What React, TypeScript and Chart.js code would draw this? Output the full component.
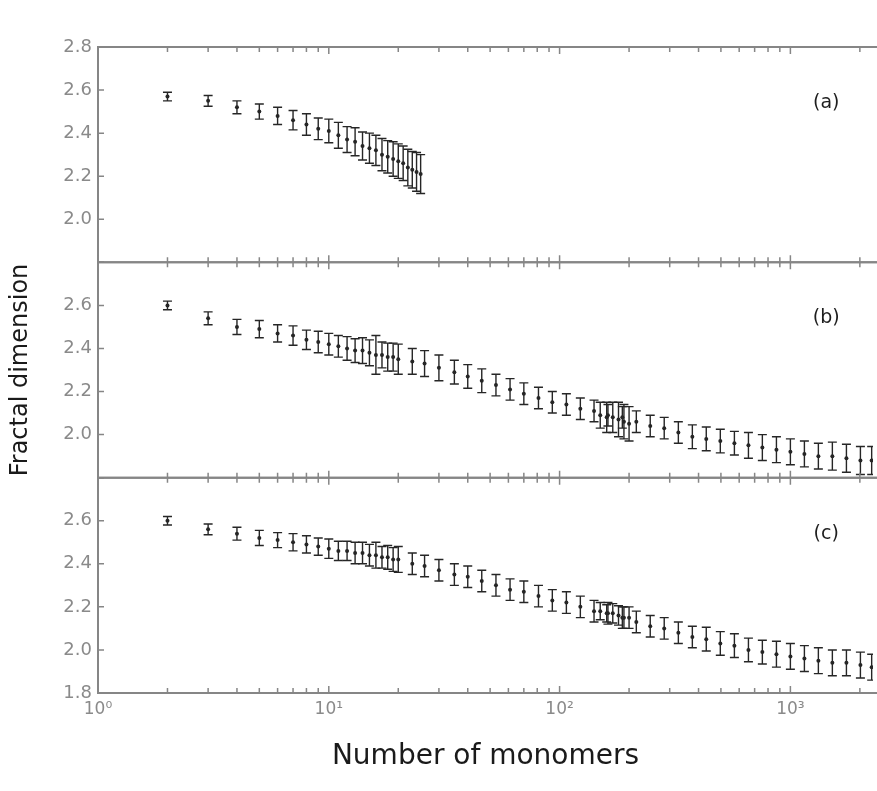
import { useEffect, useRef } from 'react';
import { Chart, registerables } from 'chart.js';

Chart.register(...registerables);

// ---- data ----
const sizesA = [2, 3, 4, 5, 6, 7, 8, 9, 10, 11, 12, 13, 14, 15, 16, 17, 18, 19, 20, 21, 22, 23, 24, 25];
const meanA = [2.57, 2.55, 2.52, 2.5, 2.48, 2.46, 2.44, 2.42, 2.41, 2.39, 2.37, 2.36, 2.34, 2.33, 2.32, 2.3, 2.29, 2.28, 2.27, 2.26, 2.24, 2.23, 2.22, 2.21];
const errA = [0.02, 0.025, 0.03, 0.035, 0.04, 0.045, 0.05, 0.05, 0.055, 0.06, 0.06, 0.065, 0.065, 0.07, 0.07, 0.075, 0.075, 0.08, 0.08, 0.08, 0.085, 0.085, 0.09, 0.09];

const smallSizes = [2, 3, 4, 5, 6, 7, 8, 9, 10, 11, 12, 13, 14, 15, 16, 17, 18, 19, 20];
const largeSizes = [23, 26, 30, 35, 40, 46, 53, 61, 70, 81, 93, 107, 123, 141, 162, 187, 215, 247, 284, 327, 376, 432, 497, 572, 658, 756, 870, 1000, 1150, 1322, 1520, 1749, 2011, 2250];
const clusterSizes = [150, 160, 170, 180, 190, 200];

const meanBSmall = [2.6, 2.54, 2.5, 2.49, 2.47, 2.46, 2.44, 2.43, 2.42, 2.41, 2.4, 2.39, 2.39, 2.38, 2.37, 2.37, 2.36, 2.36, 2.35];
const errBSmall = [0.02, 0.03, 0.035, 0.04, 0.04, 0.045, 0.045, 0.05, 0.05, 0.05, 0.055, 0.055, 0.06, 0.06, 0.09, 0.06, 0.065, 0.065, 0.07];
const meanBLarge = [2.34, 2.33, 2.31, 2.29, 2.27, 2.25, 2.23, 2.21, 2.19, 2.17, 2.15, 2.14, 2.12, 2.11, 2.09, 2.08, 2.06, 2.04, 2.03, 2.01, 1.99, 1.98, 1.97, 1.96, 1.95, 1.94, 1.93, 1.92, 1.91, 1.9, 1.9, 1.89, 1.88, 1.88];
const errBLarge = [0.06, 0.06, 0.06, 0.055, 0.055, 0.055, 0.05, 0.05, 0.05, 0.05, 0.05, 0.05, 0.05, 0.05, 0.05, 0.05, 0.05, 0.05, 0.05, 0.05, 0.055, 0.055, 0.055, 0.055, 0.06, 0.06, 0.06, 0.06, 0.06, 0.06, 0.065, 0.065, 0.065, 0.065];
const meanBCluster = [2.09, 2.08, 2.08, 2.07, 2.06, 2.05];
const errBCluster = [0.06, 0.07, 0.07, 0.08, 0.08, 0.08];

const meanCSmall = [2.6, 2.56, 2.54, 2.52, 2.51, 2.5, 2.49, 2.48, 2.47, 2.46, 2.46, 2.45, 2.45, 2.44, 2.44, 2.43, 2.43, 2.42, 2.42];
const errCSmall = [0.02, 0.025, 0.03, 0.035, 0.035, 0.04, 0.04, 0.04, 0.045, 0.045, 0.045, 0.05, 0.05, 0.05, 0.06, 0.05, 0.055, 0.055, 0.06];
const meanCLarge = [2.4, 2.39, 2.37, 2.35, 2.34, 2.32, 2.3, 2.28, 2.27, 2.25, 2.23, 2.22, 2.2, 2.18, 2.17, 2.15, 2.13, 2.11, 2.1, 2.08, 2.06, 2.05, 2.03, 2.02, 2.0, 1.99, 1.98, 1.97, 1.96, 1.95, 1.94, 1.94, 1.93, 1.92];
const errCLarge = [0.05, 0.05, 0.05, 0.05, 0.05, 0.05, 0.05, 0.05, 0.05, 0.05, 0.05, 0.05, 0.05, 0.05, 0.05, 0.05, 0.05, 0.05, 0.05, 0.05, 0.05, 0.055, 0.055, 0.055, 0.055, 0.055, 0.06, 0.06, 0.06, 0.06, 0.06, 0.06, 0.06, 0.06];
const meanCCluster = [2.18, 2.17, 2.17, 2.16, 2.15, 2.15];
const errCCluster = [0.04, 0.04, 0.045, 0.045, 0.05, 0.05];

const xTickValues = [1, 2, 3, 4, 5, 6, 7, 8, 9, 10, 20, 30, 40, 50, 60, 70, 80, 90, 100, 200, 300, 400, 500, 600, 700, 800, 900, 1000, 2000];
const xMajorValues = [1, 10, 100, 1000];
const xMajorLabels = ['10\u2070', '10\u00b9', '10\u00b2', '10\u00b3'];
const yTickValues = [1.8, 2.0, 2.2, 2.4, 2.6, 2.8];
const panelIds = ['ya', 'yb', 'yc'];
const panelLabels = ['(a)', '(b)', '(c)'];
const panelLabelPos = { x: 1430, y: 2.54 };

// ---- styles ----
const AXIS_COLOR = '#868686';
const TICK_TEXT = '#8a8a8a';
const DATA_COLOR = '#262626';
const FONT = 'DejaVu Sans';

function pts(xs: number[], ys: number[], es: number[]) {
  return xs.map((x, i) => ({ x, y: ys[i], err: es[i] }));
}

const framePlugin = {
  id: 'panelFrame',
  afterDatasetsDraw(chart: any) {
    const { ctx, chartArea } = chart;
    const xs = chart.scales.x;
    // error bars
    ctx.save();
    ctx.beginPath();
    ctx.rect(chartArea.left, chartArea.top, chartArea.right - chartArea.left, chartArea.bottom - chartArea.top);
    ctx.clip();
    ctx.strokeStyle = DATA_COLOR;
    ctx.lineWidth = 1.4;
    chart.data.datasets.forEach((ds: any, di: number) => {
      const meta = chart.getDatasetMeta(di);
      const ys = chart.scales[meta.yAxisID];
      meta.data.forEach((el: any, j: number) => {
        const raw = ds.data[j];
        const px = el.x;
        const yt = ys.getPixelForValue(raw.y + raw.err);
        const yb = ys.getPixelForValue(raw.y - raw.err);
        ctx.beginPath();
        ctx.moveTo(px, yt);
        ctx.lineTo(px, yb);
        ctx.moveTo(px - 4.5, yt);
        ctx.lineTo(px + 4.5, yt);
        ctx.moveTo(px - 4.5, yb);
        ctx.lineTo(px + 4.5, yb);
        ctx.stroke();
      });
    });
    ctx.restore();

    // frames and inward ticks
    ctx.save();
    ctx.strokeStyle = AXIS_COLOR;
    panelIds.forEach((id, k) => {
      const s = chart.scales[id];
      const top = s.top;
      const bottom = s.bottom;
      ctx.lineWidth = 2;
      ctx.beginPath();
      ctx.moveTo(chartArea.right + 10, top);
      ctx.lineTo(chartArea.left, top);
      ctx.lineTo(chartArea.left, bottom);
      ctx.lineTo(chartArea.right + 10, bottom);
      ctx.stroke();
      ctx.lineWidth = 1.5;
      ctx.beginPath();
      xs.ticks.forEach((t: any) => {
        const px = xs.getPixelForValue(t.value);
        const len = xMajorValues.includes(t.value) ? 7 : 5;
        ctx.moveTo(px, top);
        ctx.lineTo(px, top + len);
        ctx.moveTo(px, bottom);
        ctx.lineTo(px, bottom - len);
      });
      s.ticks.forEach((t: any) => {
        const py = s.getPixelForValue(t.value);
        ctx.moveTo(chartArea.left, py);
        ctx.lineTo(chartArea.left + 6, py);
      });
      ctx.stroke();
      // panel label
      ctx.fillStyle = '#1e1e1e';
      ctx.font = `19px "${FONT}"`;
      ctx.textAlign = 'center';
      ctx.textBaseline = 'middle';
      ctx.fillText(panelLabels[k], xs.getPixelForValue(panelLabelPos.x), s.getPixelForValue(panelLabelPos.y));
    });
    ctx.restore();
  },
};

function yScale(weight: number, hidden: number[], showTitle: boolean) {
  return {
    type: 'linear',
    position: 'left',
    stack: 'panels',
    stackWeight: 1,
    weight,
    min: 1.8,
    max: 2.8,
    afterBuildTicks: (s: any) => {
      s.ticks = yTickValues.map((v) => ({ value: v }));
    },
    afterFit: (s: any) => {
      s.width = 98;
    },
    grid: { display: false, drawTicks: false },
    border: { display: false },
    ticks: {
      padding: 6,
      color: TICK_TEXT,
      font: { family: FONT, size: 18 },
      callback: (v: number) => (hidden.includes(v) ? '' : v.toFixed(1)),
    },
    title: {
      display: showTitle,
      text: 'Fractal dimension',
      color: '#1a1a1a',
      font: { family: FONT, size: 24 },
      padding: { top: 6, bottom: 0 },
    },
  };
}

export default function App() {
  const ref = useRef<HTMLCanvasElement>(null);
  useEffect(() => {
    if (!ref.current) return;
    const common = { showLine: false, pointRadius: 2, pointBackgroundColor: DATA_COLOR, pointBorderColor: DATA_COLOR, pointBorderWidth: 0 };
    const chart = new Chart(ref.current, {
      type: 'scatter',
      data: {
        datasets: [
          { ...common, label: 'a', yAxisID: 'ya', data: pts(sizesA, meanA, errA) },
          { ...common, label: 'b small', yAxisID: 'yb', data: pts(smallSizes, meanBSmall, errBSmall) },
          { ...common, label: 'b large', yAxisID: 'yb', data: pts(largeSizes, meanBLarge, errBLarge) },
          { ...common, label: 'b cluster', yAxisID: 'yb', data: pts(clusterSizes, meanBCluster, errBCluster) },
          { ...common, label: 'c small', yAxisID: 'yc', data: pts(smallSizes, meanCSmall, errCSmall) },
          { ...common, label: 'c large', yAxisID: 'yc', data: pts(largeSizes, meanCLarge, errCLarge) },
          { ...common, label: 'c cluster', yAxisID: 'yc', data: pts(clusterSizes, meanCCluster, errCCluster) },
        ] as any,
      },
      options: {
        animation: false,
        responsive: true,
        maintainAspectRatio: false,
        layout: { padding: { top: 47, right: 0, bottom: 0, left: 0 } },
        plugins: { legend: { display: false }, tooltip: { enabled: false } },
        scales: {
          x: {
            type: 'logarithmic',
            position: 'bottom',
            min: 1,
            max: 2280,
            afterBuildTicks: (s: any) => {
              s.ticks = xTickValues.map((v) => ({ value: v, major: xMajorValues.includes(v) }));
            },
            afterFit: (s: any) => {
              s.height = 98;
            },
            grid: { display: false, drawTicks: false },
            border: { display: false },
            ticks: {
              autoSkip: false,
              maxRotation: 0,
              padding: 6,
              color: TICK_TEXT,
              font: { family: FONT, size: 17 },
              callback: (v: number) => {
                const i = xMajorValues.indexOf(v);
                return i >= 0 ? xMajorLabels[i] : '';
              },
            },
            title: {
              display: true,
              text: 'Number of monomers',
              color: '#1a1a1a',
              font: { family: FONT, size: 28 },
              padding: { top: 0, bottom: 17 },
            },
          },
          ya: yScale(3, [1.8], false),
          yb: yScale(2, [1.8, 2.8], true),
          yc: yScale(1, [2.8], false),
        } as any,
      },
      plugins: [framePlugin],
    });
    return () => chart.destroy();
  }, []);
  return (
    <div style={{ position: 'fixed', left: 0, top: 0, width: 877, height: 791, background: '#fff' }}>
      <canvas ref={ref} />
    </div>
  );
}
